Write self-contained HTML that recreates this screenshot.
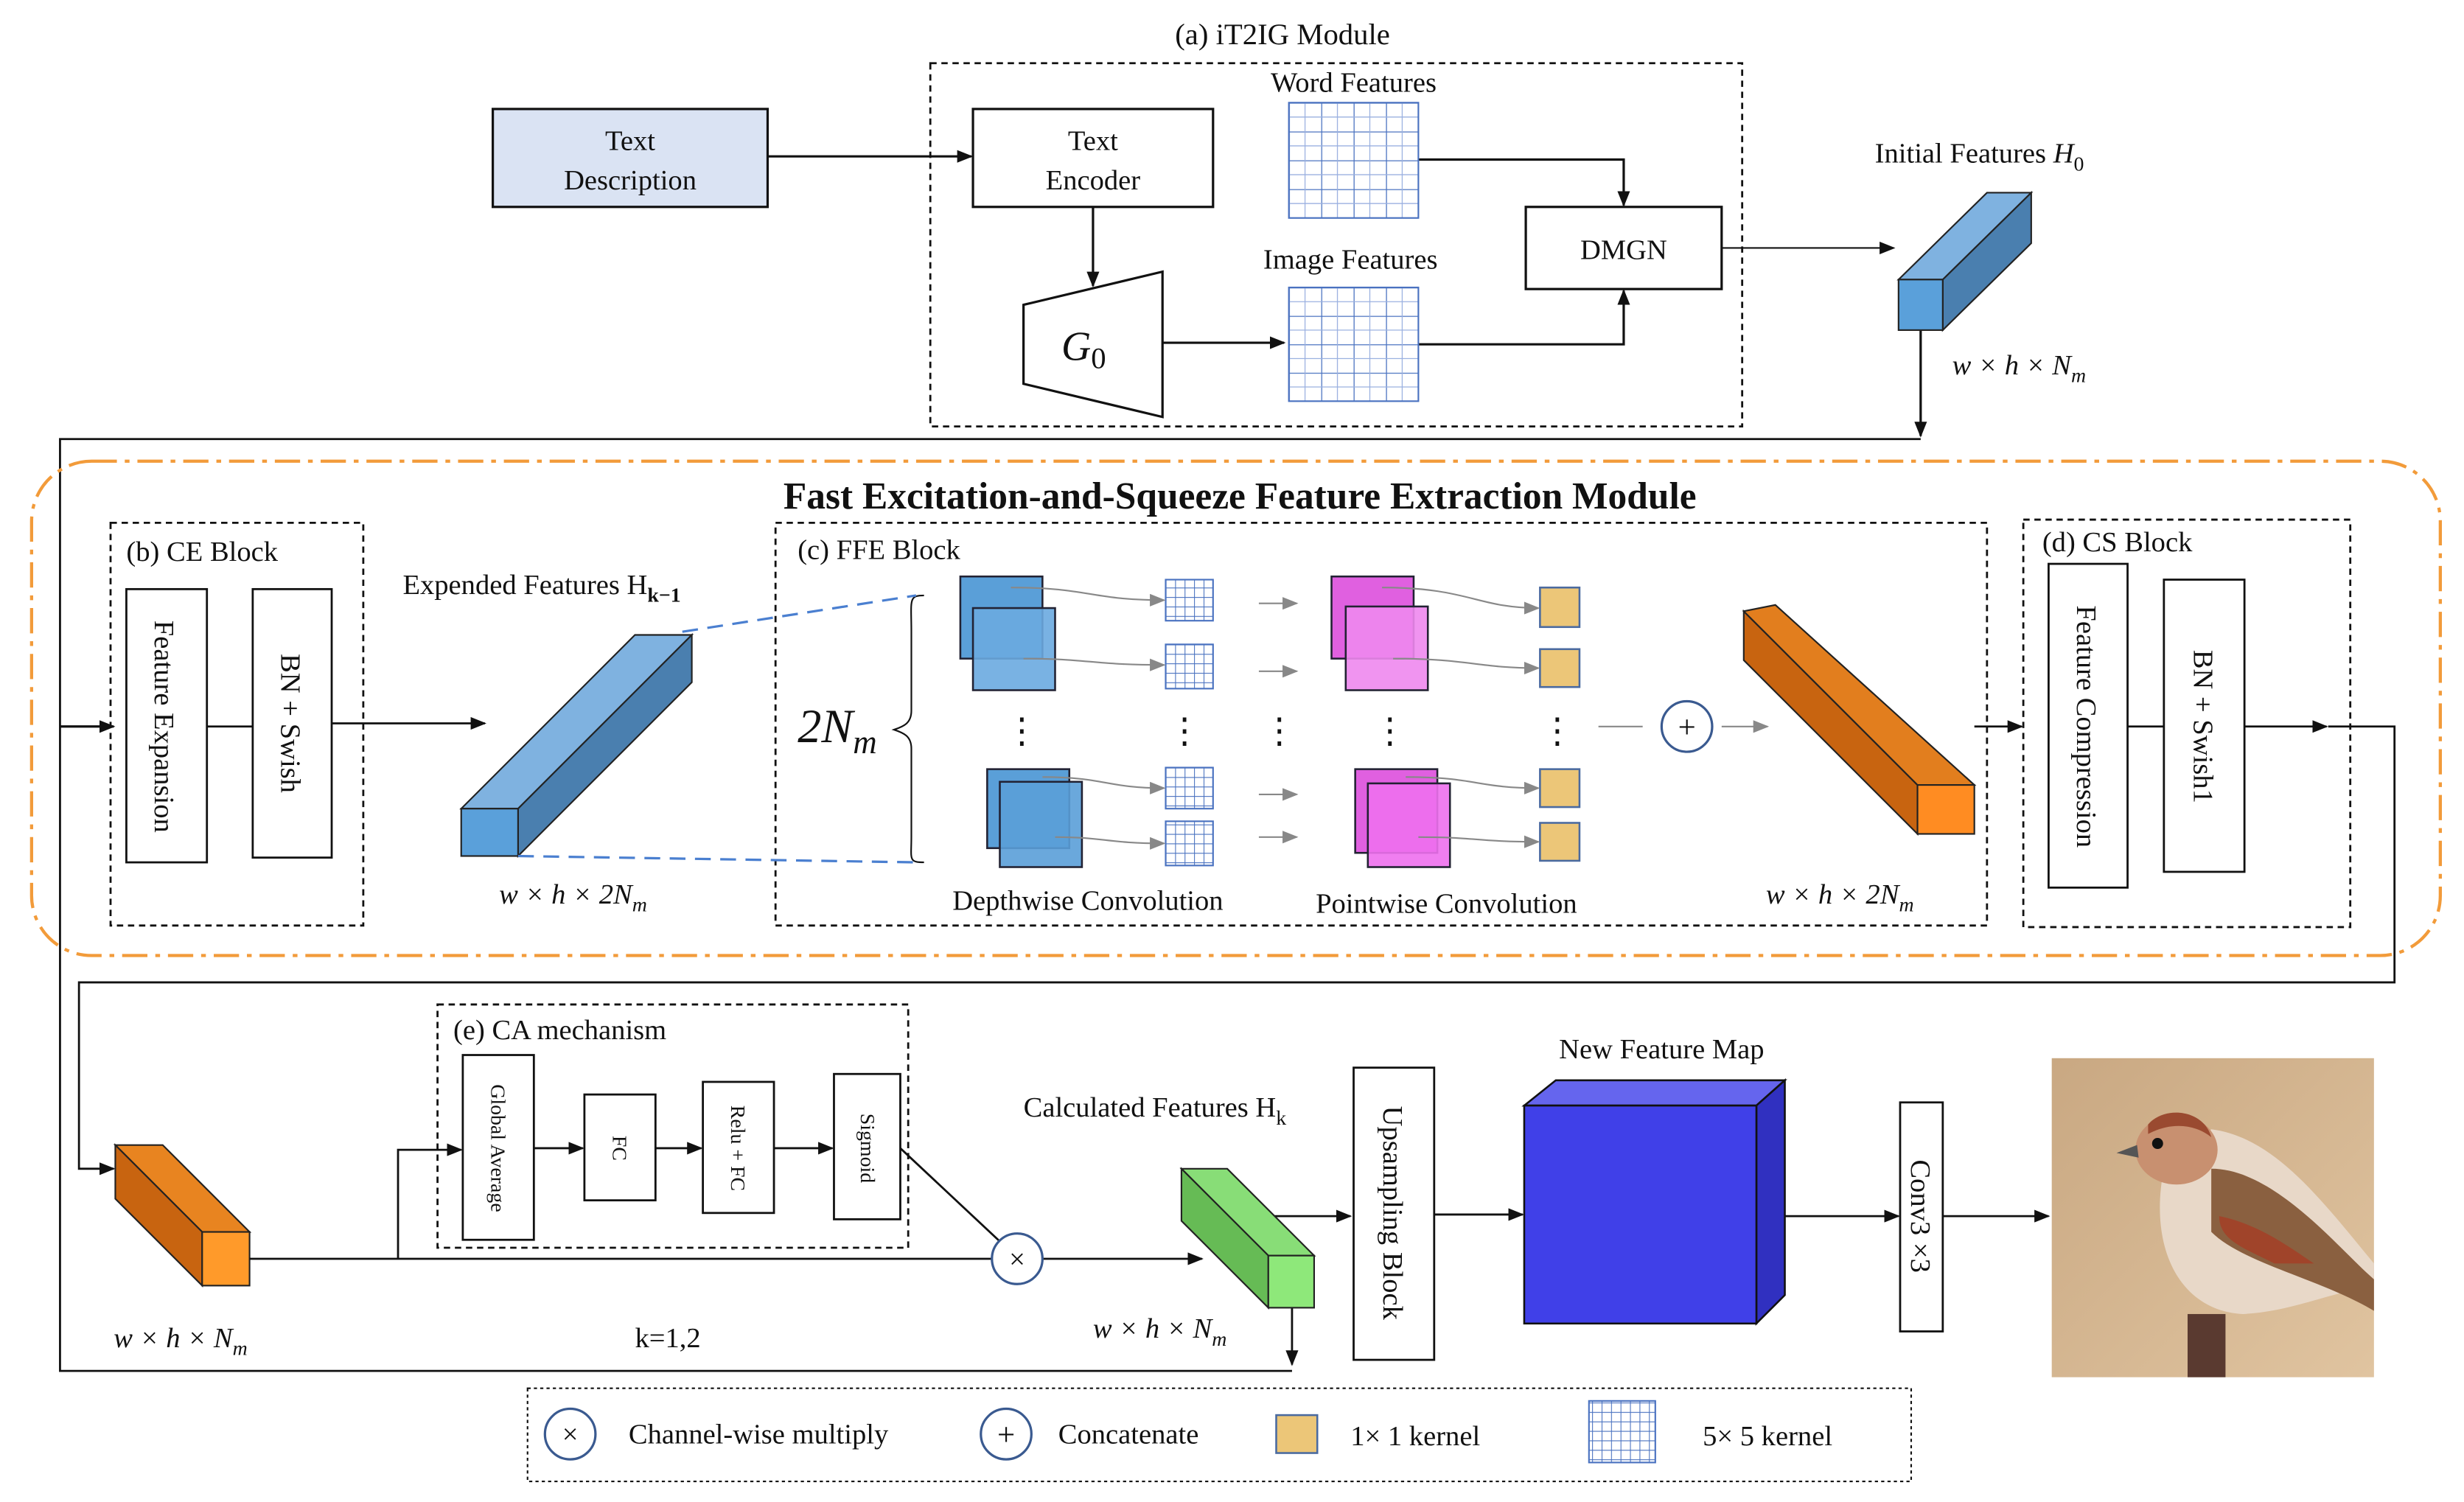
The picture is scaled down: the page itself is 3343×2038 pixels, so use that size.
<!DOCTYPE html>
<html><head><meta charset="utf-8"><style>
html,body{margin:0;padding:0;background:#fff;}
svg{display:block;font-family:"Liberation Serif","Times New Roman",serif;}
text{font-family:"Liberation Serif","Times New Roman",serif;fill:#111;}
</style></head><body>
<svg width="3343" height="2038" viewBox="0 0 1560 951" xmlns="http://www.w3.org/2000/svg" font-family="Liberation Serif, serif">
<defs>
<marker id="a" markerWidth="10" markerHeight="8" refX="9" refY="4" orient="auto" markerUnits="userSpaceOnUse"><path d="M0,0 L10,4 L0,8 z" fill="#111"/></marker>
<marker id="g" markerWidth="10" markerHeight="8" refX="9" refY="4" orient="auto" markerUnits="userSpaceOnUse"><path d="M0,0 L10,4 L0,8 z" fill="#888"/></marker>
<pattern id="grid" width="6" height="6" patternUnits="userSpaceOnUse"><rect width="6" height="6" fill="#fff"/><path d="M0,0H6M0,0V6" stroke="#4a72c0" stroke-width="1"/></pattern>
<pattern id="bgrid" x="816" y="65" width="20.5" height="18.25" patternUnits="userSpaceOnUse"><rect width="20.5" height="18.25" fill="#fff"/><path d="M0,0H20.5M0,0V18.25" stroke="#4a72c0" stroke-width="1.2"/><path d="M10.25,0V18.25M0,9.1H20.5" stroke="#9ab0e0" stroke-width="0.6"/></pattern>
<pattern id="bgrid2" x="816" y="182" width="20.5" height="18" patternUnits="userSpaceOnUse"><rect width="20.5" height="18" fill="#fff"/><path d="M0,0H20.5M0,0V18" stroke="#4a72c0" stroke-width="1.2"/><path d="M10.25,0V18M0,9H20.5" stroke="#9ab0e0" stroke-width="0.6"/></pattern>
<linearGradient id="bg" x1="0" y1="0" x2="1" y2="1"><stop offset="0" stop-color="#c9a882"/><stop offset="1" stop-color="#e0c4a0"/></linearGradient>
</defs>
<g stroke="#111" stroke-width="1.5" fill="none">
<rect x="589" y="40" width="514" height="230" stroke-dasharray="4,3" stroke-width="1.3"/>
<rect x="312" y="69" width="174" height="62" fill="#dae3f3"/>
<rect x="616" y="69" width="152" height="62" fill="#fff"/>
<line x1="486" y1="99" x2="615" y2="99" marker-end="url(#a)"/>
<line x1="692" y1="131" x2="692" y2="181" marker-end="url(#a)"/>
<polygon points="648,193 736,172 736,264 648,243" fill="#fff"/>
<line x1="736" y1="217" x2="813" y2="217" marker-end="url(#a)"/>
<rect x="966" y="131" width="124" height="52" fill="#fff"/>
<polyline points="898,101 1028,101 1028,130" marker-end="url(#a)"/>
<polyline points="898,218 1028,218 1028,184" marker-end="url(#a)"/>
<line x1="1090" y1="157" x2="1199" y2="157" stroke-width="1" marker-end="url(#a)"/>
<line x1="1216" y1="209" x2="1216" y2="276" marker-end="url(#a)"/>
<polyline points="1216,278 38,278 38,868 818,868" stroke-width="1.3"/>
<line x1="38" y1="460" x2="72" y2="460" marker-end="url(#a)"/>
<polyline points="1474,460 1516,460 1516,622 50,622 50,740 72,740" stroke-width="1.3" marker-end="url(#a)"/>
</g>
<rect x="816" y="65" width="82" height="73" fill="url(#bgrid)" stroke="#4a72c0"/>
<rect x="816" y="182" width="82" height="72" fill="url(#bgrid2)" stroke="#4a72c0"/>
<g stroke="#222" stroke-width="1">
<polygon points="1202,177 1258,122 1286,122 1230,177" fill="#7fb2e0"/>
<polygon points="1230,177 1286,122 1286,154 1230,209" fill="#4a7faf"/>
<rect x="1202" y="177" width="28" height="32" fill="#5aa0da"/>
</g>
<text x="812" y="28" font-size="19" text-anchor="middle">(a) iT2IG Module</text>
<text x="399" y="95" font-size="18" text-anchor="middle">Text</text>
<text x="399" y="120" font-size="18" text-anchor="middle">Description</text>
<text x="692" y="95" font-size="18" text-anchor="middle">Text</text>
<text x="692" y="120" font-size="18" text-anchor="middle">Encoder</text>
<text x="857" y="58" font-size="18" text-anchor="middle">Word Features</text>
<text x="855" y="170" font-size="18" text-anchor="middle">Image Features</text>
<text x="1028" y="164" font-size="18" text-anchor="middle">DMGN</text>
<text x="672" y="228" font-size="26" font-style="italic">G<tspan font-size="19" dy="5" font-style="normal">0</tspan></text>
<text x="1187" y="103" font-size="18">Initial Features <tspan font-style="italic">H</tspan><tspan font-size="13" dy="5">0</tspan></text>
<text x="1236" y="237" font-size="18" font-style="italic">w × h × N<tspan font-size="13" dy="5">m</tspan></text>

<rect x="20" y="292" width="1525" height="313" rx="38" fill="none" stroke="#f29b3a" stroke-width="2" stroke-dasharray="16,5,3,5"/>
<text x="785" y="322" font-size="24" font-weight="bold" text-anchor="middle">Fast Excitation-and-Squeeze Feature Extraction Module</text>
<g stroke="#111" stroke-width="1.3" fill="none">
<rect x="70" y="331" width="160" height="255" stroke-dasharray="4,3"/>
<rect x="80" y="373" width="51" height="173" fill="#fff"/>
<rect x="160" y="373" width="50" height="170" fill="#fff"/>
<line x1="131" y1="460" x2="160" y2="460"/>
<line x1="210" y1="458" x2="307" y2="458" marker-end="url(#a)"/>
<rect x="491" y="331" width="767" height="255" stroke-dasharray="4,3"/>
<rect x="1281" y="329" width="207" height="258" stroke-dasharray="4,3"/>
<rect x="1297" y="357" width="50" height="205" fill="#fff"/>
<rect x="1370" y="367" width="51" height="185" fill="#fff"/>
<line x1="1347" y1="460" x2="1370" y2="460"/>
<line x1="1421" y1="460" x2="1473" y2="460" marker-end="url(#a)"/>
<line x1="1250" y1="460" x2="1280" y2="460" marker-end="url(#a)"/>
<path d="M585,377 C575,377 577,380 577,400 L577,450 C577,458 572,460 566,462 C572,464 577,466 577,474 L577,530 C577,544 575,546 585,546" stroke-width="1"/>
</g>
<text x="80" y="355" font-size="18">(b) CE Block</text>
<text x="505" y="354" font-size="18">(c) FFE Block</text>
<text x="1293" y="349" font-size="18">(d) CS Block</text>
<text transform="translate(98,460) rotate(90)" font-size="18" text-anchor="middle">Feature  Expansion</text>
<text transform="translate(178,458) rotate(90)" font-size="18" text-anchor="middle">BN + Swish</text>
<text transform="translate(1315,460) rotate(90)" font-size="18" text-anchor="middle">Feature  Compression</text>
<text transform="translate(1389,460) rotate(90)" font-size="18" text-anchor="middle">BN + Swish1</text>
<g stroke="#222" stroke-width="1">
<polygon points="292,512 402,402 438,402 328,512" fill="#7fb2e0"/>
<polygon points="328,512 438,402 438,432 328,542" fill="#4a7faf"/>
<rect x="292" y="512" width="36" height="30" fill="#5aa0da"/>
</g>
<line x1="432" y1="400" x2="580" y2="377" stroke="#4a7fd0" stroke-width="1.5" stroke-dasharray="10,6"/>
<line x1="328" y1="542" x2="580" y2="546" stroke="#4a7fd0" stroke-width="1.5" stroke-dasharray="10,6"/>
<text x="255" y="376" font-size="18">Expended Features H<tspan font-size="13" dy="5" font-weight="bold">k−1</tspan></text>
<text x="316" y="572" font-size="18" font-style="italic">w × h × 2N<tspan font-size="13" dy="5">m</tspan></text>
<text x="505" y="470" font-size="30" font-style="italic">2N<tspan font-size="21" dy="7">m</tspan></text>
<g stroke="#223" stroke-width="1.2">
<rect x="608" y="365" width="52" height="52" fill="#5a9fd8"/>
<rect x="616" y="385" width="52" height="52" fill="#6aaae0" fill-opacity="0.9"/>
<rect x="625" y="487" width="52" height="50" fill="#5a9fd8"/>
<rect x="633" y="495" width="52" height="54" fill="#5a9fd8" fill-opacity="0.9"/>
<rect x="843" y="365" width="52" height="52" fill="#e060e0"/>
<rect x="852" y="384" width="52" height="53" fill="#ee88ee" fill-opacity="0.9"/>
<rect x="858" y="487" width="52" height="53" fill="#e060e0"/>
<rect x="866" y="496" width="52" height="53" fill="#ee70ee" fill-opacity="0.9"/>
</g>
<g fill="url(#grid)" stroke="#4a72c0">
<rect x="738" y="367" width="30" height="26"/>
<rect x="738" y="408" width="30" height="28"/>
<rect x="738" y="486" width="30" height="26"/>
<rect x="738" y="520" width="30" height="28"/>
</g>
<g fill="#ecc678" stroke="#4a6aa0" stroke-width="1.2">
<rect x="975" y="372" width="25" height="25"/>
<rect x="975" y="411" width="25" height="24"/>
<rect x="975" y="487" width="25" height="24"/>
<rect x="975" y="521" width="25" height="24"/>
</g>
<g stroke="#888" stroke-width="1" fill="none" marker-end="url(#g)">
<path d="M640,372 C690,372 690,380 737,380"/>
<path d="M648,417 C690,417 690,421 737,421"/>
<path d="M660,492 C700,492 700,499 737,499"/>
<path d="M668,530 C700,530 700,534 737,534"/>
<path d="M875,372 C930,372 935,385 974,385"/>
<path d="M882,417 C930,417 935,423 974,423"/>
<path d="M890,492 C935,492 935,499 974,499"/>
<path d="M898,530 C935,530 935,533 974,533"/>
<line x1="797" y1="382" x2="821" y2="382"/>
<line x1="797" y1="425" x2="821" y2="425"/>
<line x1="797" y1="503" x2="821" y2="503"/>
<line x1="797" y1="530" x2="821" y2="530"/>
<line x1="1090" y1="460" x2="1119" y2="460"/>
</g>
<line x1="1012" y1="460" x2="1040" y2="460" stroke="#888" stroke-width="1"/>
<g font-size="22" text-anchor="middle">
<text x="647" y="470">⋮</text><text x="750" y="470">⋮</text><text x="810" y="470">⋮</text><text x="880" y="470">⋮</text><text x="986" y="470">⋮</text>
</g>
<circle cx="1068" cy="460" r="16" fill="#fff" stroke="#3a5a90" stroke-width="1.5"/>
<text x="1068" y="467" font-size="20" text-anchor="middle">+</text>
<g stroke="#222" stroke-width="1">
<polygon points="1104,387 1214,497 1214,528 1104,418" fill="#c86410"/>
<polygon points="1104,387 1124,383 1250,497 1214,497" fill="#e27e1e"/>
<rect x="1214" y="497" width="36" height="31" fill="#ff8c22"/>
</g>
<text x="603" y="576" font-size="18">Depthwise Convolution</text>
<text x="833" y="578" font-size="18">Pointwise Convolution</text>
<text x="1118" y="572" font-size="18" font-style="italic">w × h × 2N<tspan font-size="13" dy="5">m</tspan></text>

<g stroke="#222" stroke-width="1">
<polygon points="73,725 103,725 158,780 128,780" fill="#e88420"/>
<polygon points="73,725 128,780 128,814 73,759" fill="#c86410"/>
<rect x="128" y="780" width="30" height="34" fill="#ff9a2a"/>
</g>
<g stroke="#111" stroke-width="1.3" fill="none">
<line x1="158" y1="797" x2="628" y2="797"/>
<polyline points="252,797 252,728 292,728" marker-end="url(#a)"/>
<rect x="277" y="636" width="298" height="154" stroke-dasharray="4,3"/>
<rect x="293" y="668" width="45" height="117" fill="#fff"/>
<rect x="370" y="693" width="45" height="67" fill="#fff"/>
<rect x="445" y="685" width="45" height="83" fill="#fff"/>
<rect x="528" y="680" width="42" height="92" fill="#fff"/>
<line x1="338" y1="727" x2="369" y2="727" marker-end="url(#a)"/>
<line x1="415" y1="727" x2="444" y2="727" marker-end="url(#a)"/>
<line x1="490" y1="727" x2="527" y2="727" marker-end="url(#a)"/>
<line x1="570" y1="727" x2="633" y2="786"/>
<line x1="660" y1="797" x2="761" y2="797" marker-end="url(#a)"/>
<line x1="805" y1="770" x2="855" y2="770" marker-end="url(#a)"/>
<line x1="818" y1="828" x2="818" y2="864" marker-end="url(#a)"/>
<rect x="857" y="676" width="51" height="185" fill="#fff"/>
<line x1="908" y1="769" x2="964" y2="769" marker-end="url(#a)"/>
<line x1="1112" y1="770" x2="1202" y2="770" marker-end="url(#a)"/>
<rect x="1203" y="698" width="27" height="145" fill="#fff"/>
<line x1="1230" y1="770" x2="1297" y2="770" marker-end="url(#a)"/>
<rect x="334" y="879" width="876" height="59" stroke-dasharray="2,2" stroke-width="1"/>
</g>
<circle cx="644" cy="797" r="16" fill="#fff" stroke="#3a5a90" stroke-width="1.5"/>
<text x="644" y="803" font-size="18" text-anchor="middle">×</text>
<g font-size="13" text-anchor="middle">
<text transform="translate(311,727) rotate(90)">Global Average</text>
<text transform="translate(388,727) rotate(90)">FC</text>
<text transform="translate(463,727) rotate(90)">Relu + FC</text>
<text transform="translate(545,727) rotate(90)">Sigmoid</text>
</g>
<text x="287" y="658" font-size="18">(e) CA mechanism</text>
<g stroke="#222" stroke-width="1">
<polygon points="748,740 777,740 832,795 803,795" fill="#88dd77"/>
<polygon points="748,740 803,795 803,828 748,773" fill="#66bb55"/>
<rect x="803" y="795" width="29" height="33" fill="#8ee87a"/>
</g>
<text x="648" y="707" font-size="18">Calculated Features H<tspan font-size="13" dy="5">k</tspan></text>
<text x="692" y="847" font-size="18" font-style="italic">w × h × N<tspan font-size="13" dy="5">m</tspan></text>
<text x="72" y="853" font-size="18" font-style="italic">w × h × N<tspan font-size="13" dy="5">m</tspan></text>
<text x="402" y="853" font-size="18">k=1,2</text>
<text transform="translate(876,768) rotate(90)" font-size="18" text-anchor="middle">Upsampling Block</text>
<text transform="translate(1210,770) rotate(90)" font-size="18" text-anchor="middle">Conv3 ×3</text>
<g stroke="#111" stroke-width="1.2">
<polygon points="965,700 985,684 1130,684 1112,700" fill="#6565ee"/>
<polygon points="1112,700 1130,684 1130,820 1112,838" fill="#3030c0"/>
<rect x="965" y="700" width="147" height="138" fill="#4040e8"/>
</g>
<text x="1052" y="670" font-size="18" text-anchor="middle">New Feature Map</text>
<rect x="1299" y="670" width="204" height="202" fill="url(#bg)"/>
<rect x="1385" y="832" width="24" height="40" fill="#5a3a30"/>
<path d="M1370,740 C1360,790 1380,830 1420,832 C1460,830 1490,810 1503,820 L1503,800 C1470,760 1440,720 1400,715 Z" fill="#e8d8c8"/>
<path d="M1400,740 C1440,740 1480,790 1503,810 L1503,830 C1470,810 1420,800 1400,780 Z" fill="#8a6040"/>
<path d="M1405,770 C1430,775 1450,790 1465,800 L1440,800 C1420,790 1405,785 1405,770 Z" fill="#a0442a"/>
<ellipse cx="1378" cy="728" rx="26" ry="22" fill="#c89070"/>
<path d="M1360,712 C1370,700 1395,702 1400,720 C1390,712 1375,710 1360,718 Z" fill="#9a4a30"/>
<circle cx="1366" cy="724" r="3.5" fill="#111"/>
<path d="M1353,725 L1340,730 L1354,733 Z" fill="#555"/>
<circle cx="361" cy="908" r="16" fill="#fff" stroke="#3a5a90" stroke-width="1.5"/>
<text x="361" y="914" font-size="18" text-anchor="middle">×</text>
<text x="398" y="914" font-size="18">Channel-wise multiply</text>
<circle cx="637" cy="908" r="16" fill="#fff" stroke="#3a5a90" stroke-width="1.5"/>
<text x="637" y="915" font-size="20" text-anchor="middle">+</text>
<text x="670" y="914" font-size="18">Concatenate</text>
<rect x="808" y="896" width="26" height="24" fill="#ecc678" stroke="#4a6aa0" stroke-width="1.2"/>
<text x="855" y="915" font-size="18">1× 1 kernel</text>
<rect x="1006" y="887" width="42" height="39" fill="url(#grid)" stroke="#4a72c0"/>
<text x="1078" y="915" font-size="18">5× 5 kernel</text>
</svg>
</body></html>
